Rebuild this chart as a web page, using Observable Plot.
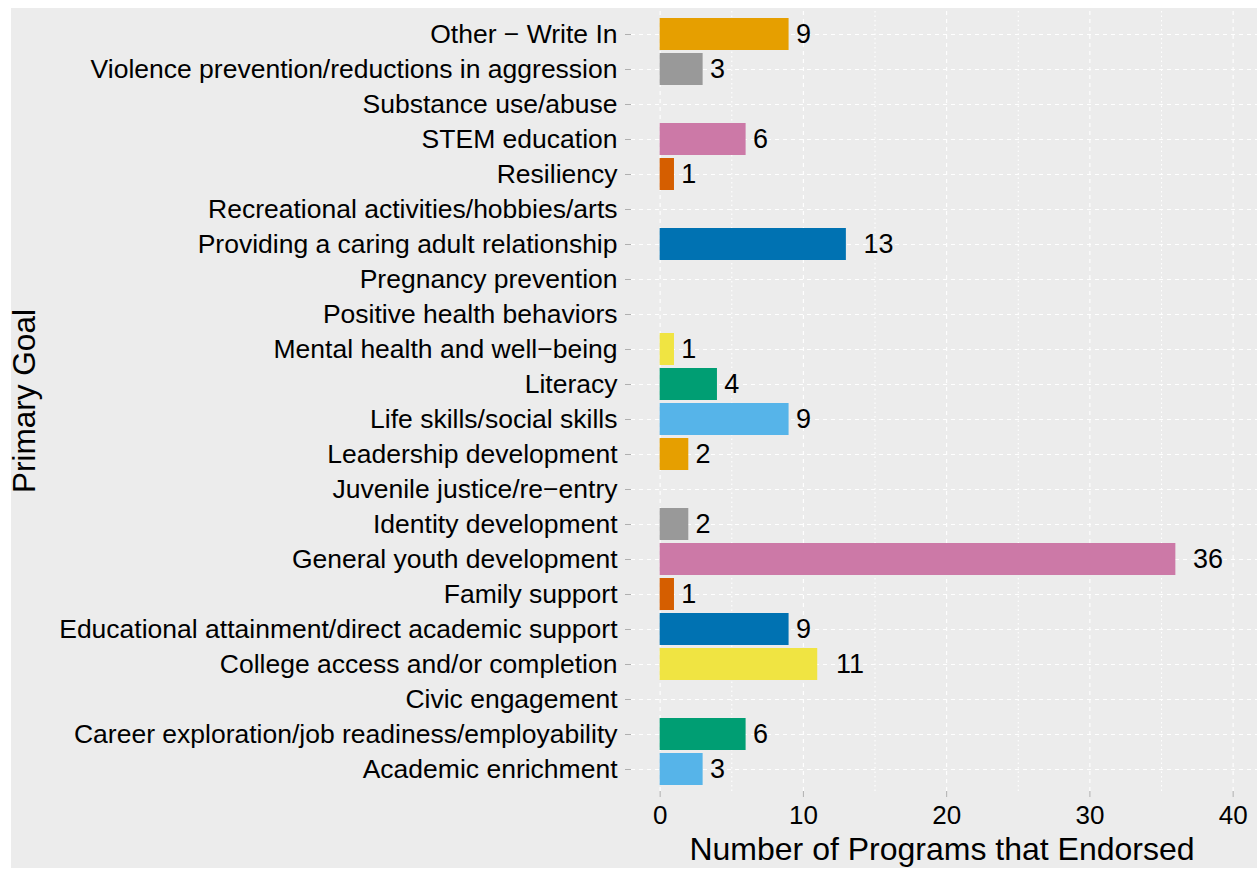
<!DOCTYPE html>
<html>
<head>
<meta charset="utf-8">
<script src="https://cdn.jsdelivr.net/npm/d3@7"></script>
<script src="https://cdn.jsdelivr.net/npm/@observablehq/plot@0.6"></script>
<style>
  html, body { margin: 0; padding: 0; background: #ffffff; }
  #frame { position: absolute; left: 11px; top: 8px; width: 1246px; height: 860px; background: #ececec; }
  #frame svg { display: block; overflow: visible; }
</style>
</head>
<body>
<div id="frame"></div>
<script>
// Categories (bottom to top as drawn)
const categories = [
  "Academic enrichment",
  "Career exploration/job readiness/employability",
  "Civic engagement",
  "College access and/or completion",
  "Educational attainment/direct academic support",
  "Family support",
  "General youth development",
  "Identity development",
  "Juvenile justice/re\u2212entry",
  "Leadership development",
  "Life skills/social skills",
  "Literacy",
  "Mental health and well\u2212being",
  "Positive health behaviors",
  "Pregnancy prevention",
  "Providing a caring adult relationship",
  "Recreational activities/hobbies/arts",
  "Resiliency",
  "STEM education",
  "Substance use/abuse",
  "Violence prevention/reductions in aggression",
  "Other \u2212 Write In"
];
const counts = [3, 6, 0, 11, 9, 1, 36, 2, 0, 2, 9, 4, 1, 0, 0, 13, 0, 1, 6, 0, 3, 9];
const barColors = [
  "#56B4E9", "#009E73", "#F0E442", "#F0E442", "#0072B2", "#D55E00", "#CC79A7", "#999999",
  "#E69F00", "#E69F00", "#56B4E9", "#009E73", "#F0E442", "#0072B2", "#0072B2", "#0072B2",
  "#D55E00", "#D55E00", "#CC79A7", "#999999", "#999999", "#E69F00"
];
const majorTicks = [0, 10, 20, 30, 40];
const minorTicks = [5, 15, 25, 35];
const xTitle = "Number of Programs that Endorsed";
const yTitle = "Primary Goal";

const data = categories.map((goal, i) => ({goal, n: counts[i], color: barColors[i]}));
const shown = data.filter(d => d.n > 0);

const W = 1246, H = 860;
const chart = Plot.plot({
  width: W,
  height: H,
  marginLeft: 620,
  marginRight: 0,
  marginTop: 3,
  marginBottom: 77,
  style: {background: "transparent", fontFamily: "'Liberation Sans', Arial, sans-serif", fontSize: "26px", color: "black"},
  x: {domain: [-2, 41.7]},
  y: {domain: categories.slice().reverse(), paddingInner: 0.1, paddingOuter: 0.15},
  marks: [
    Plot.ruleY(categories, {y: d => d, stroke: "white", strokeWidth: 1.1, strokeDasharray: "4,4"}),
    Plot.ruleX(minorTicks, {x: d => d, stroke: "white", strokeWidth: 1.1, strokeDasharray: "1.5,3"}),
    Plot.ruleX(majorTicks, {x: d => d, stroke: "white", strokeWidth: 1.1, strokeDasharray: "4,4"}),
    Plot.barX(shown, {x: "n", y: "goal", fill: "color"}),
    Plot.text(shown, {x: d => d.n + (d.n >= 10 ? 2.25 : 1), y: "goal", text: d => String(d.n), fontSize: 27, fill: "black"}),
    Plot.axisY({tickSize: 6, tickPadding: 8, stroke: "#b0b0b0", fill: "black", fontSize: 26.5, label: null}),
    Plot.axisX({ticks: majorTicks, tickSize: 6, tickPadding: 8, stroke: "#b0b0b0", fill: "black", fontSize: 26, label: null, tickFormat: d => String(d)})
  ]
});

document.getElementById("frame").appendChild(chart);

const svg = d3.select(chart);
svg.append("text")
  .attr("x", 931).attr("y", 852)
  .attr("text-anchor", "middle")
  .attr("font-size", 32)
  .attr("fill", "black")
  .text(xTitle);
svg.append("text")
  .attr("transform", "translate(24,393) rotate(-90)")
  .attr("text-anchor", "middle")
  .attr("font-size", 31.5)
  .attr("fill", "black")
  .text(yTitle);
</script>
</body>
</html>
